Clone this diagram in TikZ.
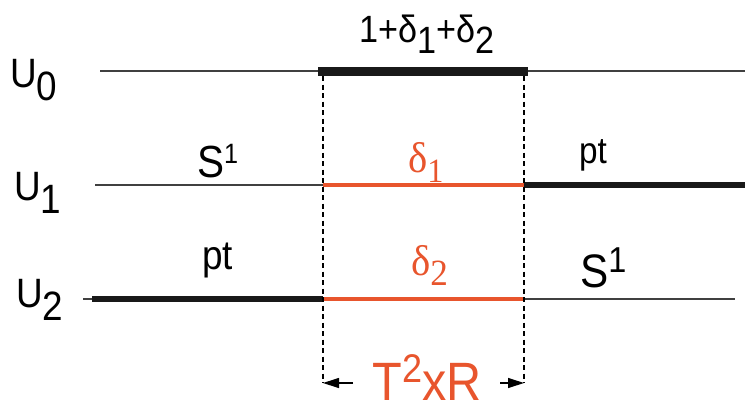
\documentclass[tikz,border=0pt]{standalone}
\usepackage{fontspec}
\setmainfont[FakeStretch=0.9]{Liberation Sans}
\newfontfamily\grkfont[FakeStretch=0.95]{Liberation Serif}
\usetikzlibrary{arrows.meta}
\definecolor{dred}{RGB}{232,85,45}
\newcommand{\lowr}[2][0.32em]{\raisebox{-#1}{#2}}
\newcommand{\highr}[2][27]{\raisebox{0.3em}{\fontsize{#1}{#1}\selectfont #2}}

\begin{document}
\begin{tikzpicture}[
  x=1pt, y=-1pt,
  lvl/.style={font=\fontsize{41}{41}\selectfont, inner sep=0pt, anchor=base west},
  dlt/.style={font=\fontsize{43}{43}\grkfont, text=dred, inner sep=0pt, anchor=base west},
  base/.style={draw=black!75, line width=1.2pt},
  bar/.style={draw=black!90, line width=6pt},
  redbar/.style={draw=dred, line width=3.5pt},
  guide/.style={draw=black, line width=1.1pt, dash pattern=on 5pt off 3.5pt},
  a/.style={-{Triangle[length=16pt,width=10pt]}, line width=1.2pt}
]
\useasboundingbox (0,0) rectangle (745,413);

% ---- levels ----
\draw[base]   (100,71) -- (745,71);
\draw[bar, line width=9pt] (318,71) -- (528,71);

\draw[base]   (95,185)  -- (323,185);
\draw[redbar] (323,185) -- (524,185);
\draw[bar]    (524,185) -- (745,185);

\draw[base]   (83,299)  -- (92,299);
\draw[bar]    (92,299)  -- (323,299);
\draw[redbar] (323,299) -- (524,299);
\draw[base]   (524,299) -- (735,299);

% ---- level names ----
\node[lvl] (u0) at (10,87)  {U\lowr{0}};
\node[lvl] (u1) at (14,200) {U\lowr{1}};
\node[lvl] (u2) at (16,307) {U\lowr{2}};

% ---- fibres ----
\node[lvl, font=\fontsize{45}{45}\selectfont] (sl) at (197,177) {S\highr[28]{1}};
\node[lvl] (pl) at (202,269) {pt};
\node[lvl, font=\fontsize{37}{37}\selectfont] (pr) at (579,163) {pt};
\node[lvl, font=\fontsize{47}{47}\selectfont] (sr) at (580,287) {S\highr[36]{1}};
\node[dlt] (d1) at (408,172) {δ\lowr[0.25em]{\fontsize{34}{34}\selectfont 1}};
\node[dlt] (d2) at (411,275) {δ\lowr[0.25em]{\fontsize{37}{37}\selectfont\grkfont 2}};
\node[font=\fontsize{38}{38}\selectfont, inner sep=0pt, anchor=base] (top) at (427,42)
  {1+δ\lowr[0.3em]{1}+δ\lowr[0.3em]{2}};

% ---- interval ----
\coordinate (L0) at (323,76);
\coordinate (R0) at (524,76);
\coordinate (L3) at (323,383);
\coordinate (R3) at (524,383);
\coordinate (al) at (353,383);
\coordinate (ar) at (500,383);
\draw[guide] (L0) -- (L3);
\draw[guide] (R0) -- (R3);
\draw[a] (al) -- (L3);
\draw[a] (ar) -- (R3);
\node[font=\fontsize{54}{54}\selectfont, text=dred, inner sep=0pt, anchor=base] (tr) at (427,400)
  {T\raisebox{0.32em}{\fontsize{40}{40}\selectfont 2}xR};
\end{tikzpicture}
\end{document}
